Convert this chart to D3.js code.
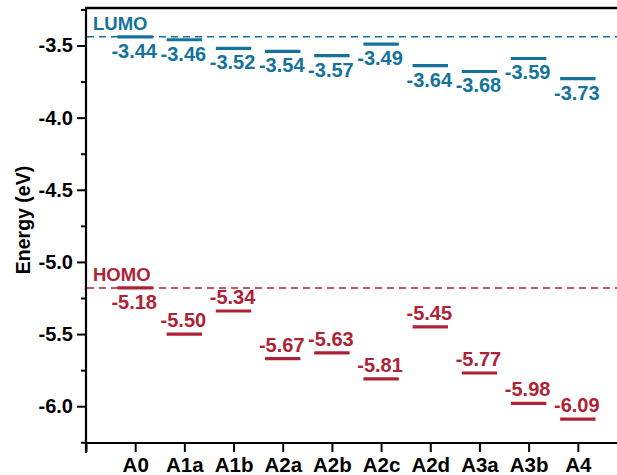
<!DOCTYPE html>
<html>
<head>
<meta charset="utf-8">
<script src="https://cdn.jsdelivr.net/npm/d3@7"></script>
<style>
	body { margin: 0; background: #fff; }
	svg { display: block; font-family: "Liberation Sans", Arial, sans-serif; font-weight: bold; }
</style>
</head>
<body>
<svg id="chart" width="617" height="475"></svg>
<script>
// données
const molecules = ["A0", "A1a", "A1b", "A2a", "A2b", "A2c", "A2d", "A3a", "A3b", "A4"];
const lumo = [-3.44, -3.46, -3.52, -3.54, -3.57, -3.49, -3.64, -3.68, -3.59, -3.73];
const homo = [-5.18, -5.50, -5.34, -5.67, -5.63, -5.81, -5.45, -5.77, -5.98, -6.09];
const yTicks = [-3.5, -4.0, -4.5, -5.0, -5.5, -6.0];
const yMinor = [-3.25, -3.75, -4.25, -4.75, -5.25, -5.75, -6.25];
const lumoRef = -3.44, homoRef = -5.18;

const cLumo = "#15739b", cHomo = "#ae2236";

let svg = d3.select("#chart");
let margin = {top: 8, left: 86, bottom: 443};
let x = d3.scaleLinear().domain([0, 11]).range([86, 627]);
let y = d3.scaleLinear().domain([-6.255, -3.24]).range([443, 8]);
let hw = 0.36; // demi-largeur des niveaux (unités x)

// axe gauche (grandes + petites graduations)
svg.append("g")
	.attr("transform", `translate(${margin.left},0)`)
	.call(d3.axisLeft(y).tickValues(yTicks).tickFormat(d => d.toFixed(1)).tickSize(9).tickPadding(4))
	.call(g => g.select(".domain").remove())
	.call(g => g.selectAll("line").attr("stroke-width", 2))
	.call(g => g.selectAll("text").attr("font-size", 20).attr("font-family", null).attr("fill", "#000"));
svg.append("g")
	.attr("transform", `translate(${margin.left},0)`)
	.call(d3.axisLeft(y).tickValues(yMinor).tickFormat("").tickSize(5))
	.call(g => g.select(".domain").remove())
	.call(g => g.selectAll("line").attr("stroke-width", 2));

// axe bas
svg.append("g")
	.attr("transform", `translate(0,${margin.bottom})`)
	.call(d3.axisBottom(x).tickValues(d3.range(0, 12)).tickFormat(i => molecules[i - 1] ?? "").tickSize(9))
	.call(g => g.select(".domain").remove())
	.call(g => g.selectAll("line").attr("stroke-width", 2))
	.call(g => g.selectAll("text").attr("font-size", 20.5).attr("font-family", null).attr("fill", "#000")
		.attr("dy", null).attr("y", 29));

// cadre
svg.append("line").attr("x1", 86).attr("x2", 617).attr("y1", 443).attr("y2", 443).attr("stroke", "#000").attr("stroke-width", 2.2);
svg.append("line").attr("x1", 86).attr("x2", 86).attr("y1", 7).attr("y2", 453).attr("stroke", "#000").attr("stroke-width", 2.2);
svg.append("line").attr("x1", 85).attr("x2", 617).attr("y1", 8).attr("y2", 8).attr("stroke", "#000").attr("stroke-width", 2.5);

// titre de l'axe y
svg.append("text")
	.attr("transform", `translate(30,220) rotate(-90)`)
	.attr("text-anchor", "middle")
	.attr("font-size", 19.5)
	.text("Energy (eV)");

// lignes de référence pointillées
for (let [v, c, lab] of [[lumoRef, cLumo, "LUMO"], [homoRef, cHomo, "HOMO"]]) {
	svg.append("line")
		.attr("x1", 87).attr("x2", 617)
		.attr("y1", y(v)).attr("y2", y(v))
		.attr("stroke", c).attr("stroke-width", 1.5)
		.attr("stroke-dasharray", "7,5");
	svg.append("text")
		.attr("x", 93).attr("y", y(v) - 6.5)
		.attr("fill", c).attr("font-size", 18.5)
		.text(lab);
}

// niveaux LUMO
let gl = svg.append("g");
gl.selectAll("line")
	.data(lumo)
	.join("line")
	.attr("x1", (d, i) => x(i + 1 - hw))
	.attr("x2", (d, i) => x(i + 1 + hw))
	.attr("y1", d => y(d)).attr("y2", d => y(d))
	.attr("stroke", cLumo).attr("stroke-width", 3.2);
gl.selectAll("text")
	.data(lumo)
	.join("text")
	.attr("x", (d, i) => x(i + 1) - 1)
	.attr("y", d => y(d) + 21)
	.attr("text-anchor", "middle")
	.attr("fill", cLumo).attr("font-size", 20)
	.text(d => d.toFixed(2));

// niveaux HOMO
let gh = svg.append("g");
gh.selectAll("line")
	.data(homo)
	.join("line")
	.attr("x1", (d, i) => x(i + 1 - hw))
	.attr("x2", (d, i) => x(i + 1 + hw))
	.attr("y1", d => y(d)).attr("y2", d => y(d))
	.attr("stroke", cHomo).attr("stroke-width", 3.2);
gh.selectAll("text")
	.data(homo)
	.join("text")
	.attr("x", (d, i) => x(i + 1) - 1)
	.attr("y", (d, i) => i === 0 ? y(d) + 21.5 : y(d) - 7)
	.attr("text-anchor", "middle")
	.attr("fill", cHomo).attr("font-size", 20)
	.text(d => d.toFixed(2));
</script>
</body>
</html>
